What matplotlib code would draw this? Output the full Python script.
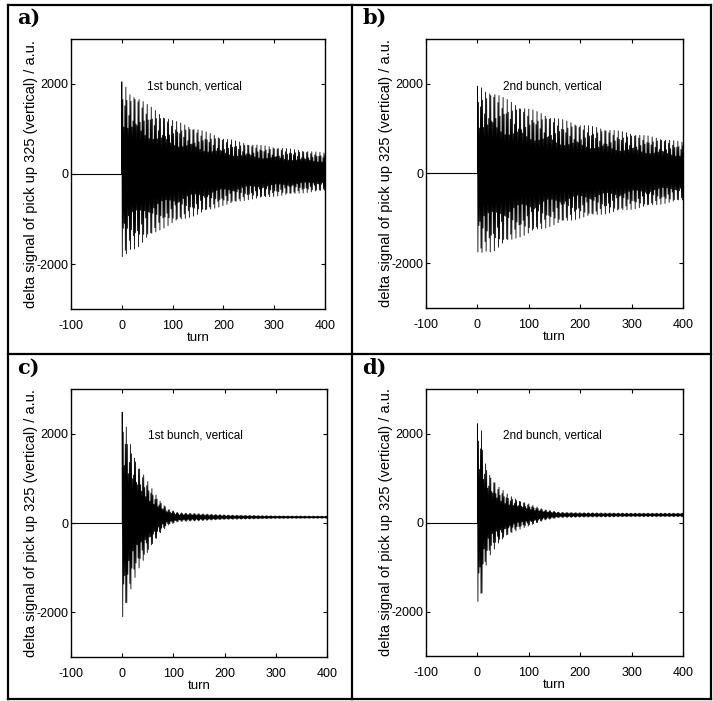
"""Four-panel turn-by-turn pick-up signal (vertical, bunch 1 / 2)."""
import numpy as np
import matplotlib
matplotlib.use('Agg')
import matplotlib.pyplot as plt
from matplotlib.lines import Line2D

W, H = 713, 701
plt.rcParams.update({'font.family': ['Liberation Sans', 'DejaVu Sans'],
                     'font.size': 9, 'axes.unicode_minus': False})

# ---- values ----
panel_tags = ['a)', 'b)', 'c)', 'd)']
panel_texts = ['1st bunch, vertical', '2nd bunch, vertical',
               '1st bunch, vertical', '2nd bunch, vertical']
# envelope knots: turn number and peak amplitude (a.u.)
env_turns_a = [0, 5, 15, 30, 50, 75, 100, 150, 200, 250, 300, 350, 400]
env_amp_a = [2000, 1950, 1750, 1700, 1500, 1300, 1150, 950, 750, 620, 550, 480, 420]
env_turns_b = [0, 5, 15, 30, 50, 75, 100, 150, 200, 250, 300, 350, 400]
env_amp_b = [1900, 1900, 1800, 1800, 1650, 1500, 1400, 1200, 1050, 950, 850, 750, 650]
env_turns_c = [0, 3, 10, 20, 30, 45, 60, 75, 90, 110, 150, 200, 300, 400]
env_amp_c = [2350, 2350, 1900, 1500, 1200, 900, 600, 350, 180, 100, 80, 50, 30, 25]
env_turns_d = [0, 3, 8, 15, 25, 40, 60, 80, 100, 130, 160, 200, 300, 400]
env_amp_d = [2050, 2050, 1900, 1200, 900, 650, 450, 330, 250, 120, 60, 50, 40, 40]
offsets = [50, 50, 130, 170]          # closed-orbit level after the kick
beat_period = 8.3                     # turns between the tall spikes
pre_turns = [-100, 0]                 # flat trace before the kick

envs = [(env_turns_a, env_amp_a), (env_turns_b, env_amp_b),
        (env_turns_c, env_amp_c), (env_turns_d, env_amp_d)]

# axes boxes in pixels: left, right, top, bottom
boxes = [(71, 325, 39, 309), (426, 683, 39, 308),
         (71, 327, 389, 657), (426, 683, 389, 656)]
tag_pos = [(17, 8), (362, 8), (17, 358), (362, 358)]

fig = plt.figure(figsize=(W / 100, H / 100), dpi=100)

turns = np.arange(0, 401)
for i in range(4):
    l, r, t, b = boxes[i]
    ax = fig.add_axes([l / W, 1 - b / H, (r - l) / W, (b - t) / H])
    et, ea = envs[i]
    amp = np.interp(turns, et, ea)
    scallop = np.abs(np.cos(np.pi * turns / beat_period)) ** 1.5
    carrier = (-1.0) ** turns * (0.5 + 0.5 * scallop)
    sig = offsets[i] + amp * carrier
    ax.plot(pre_turns, [0, 0], color='k', lw=0.8)
    ax.plot(np.r_[0, turns], np.r_[0, sig], color='k', lw=0.6)
    ax.set_xlim(-100, 400)
    ax.set_ylim(-3000, 3000)
    ax.set_xticks([-100, 0, 100, 200, 300, 400])
    ax.set_yticks([-2000, 0, 2000])
    ax.tick_params(direction='in', top=True, right=True, length=3,
                   labelsize=9, pad=2)
    ax.tick_params(axis='x', pad=8)
    for s in ax.spines.values():
        s.set_linewidth(1.0)
    ax.set_xlabel('turn', fontsize=9.5, labelpad=0)
    ax.set_ylabel('delta signal of pick up 325 (vertical) / a.u.', fontsize=10.5)
    ax.yaxis.set_label_coords(-33 / (r - l), 0.5)
    ax.text(50, 1950, panel_texts[i], fontsize=8.5, va='center')
    fig.text(tag_pos[i][0] / W, 1 - tag_pos[i][1] / H, panel_tags[i],
             family='DejaVu Serif', weight='bold', fontsize=15, va='top')

# panel frames
for x in (8, 352, 711):
    fig.add_artist(Line2D([x / W, x / W], [1 - 5 / H, 1 - 699 / H], color='k', lw=1.6))
for y in (5, 354, 699):
    fig.add_artist(Line2D([8 / W, 711 / W], [1 - y / H, 1 - y / H], color='k', lw=1.6))

fig.savefig('out.png', dpi=100)
